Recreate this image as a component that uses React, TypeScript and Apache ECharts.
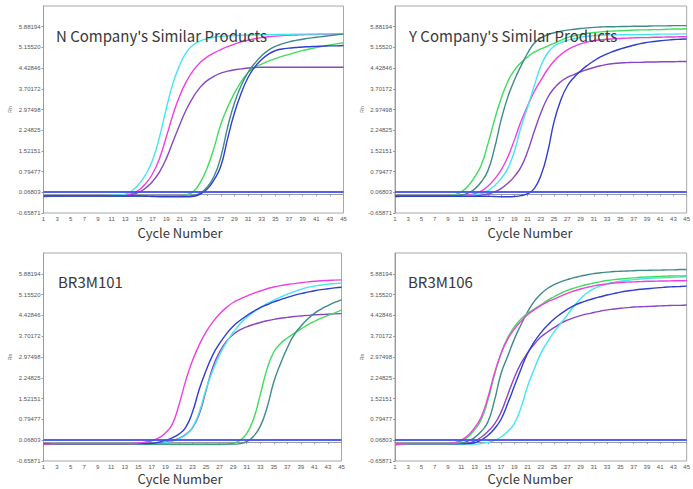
import React, { useEffect, useRef } from "react";
import * as echarts from "echarts";

const cycles: string[] = [
  "1","2","3","4","5","6","7","8","9","10","11","12","13","14","15","16","17","18","19","20",
  "21","22","23","24","25","26","27","28","29","30","31","32","33","34","35","36","37","38","39","40",
  "41","42","43","44","45",
];

const yTickLabels = ["-0.65871","0.06803","0.79477","1.52151","2.24825","2.97498","3.70172","4.42846","5.15520","5.88194"];
const yMin = -0.65871;
const yMax = 6.60869;

const panelTitles = ["N Company's Similar Products", "Y Company's Similar Products", "BR3M101", "BR3M106"];
const thresholds = [0.09, 0.09, 0.1, 0.1];

// N Company
const nCyan = [-0.06,-0.05,-0.05,-0.05,-0.05, -0.05,-0.05,-0.05,-0.05,-0.05, -0.04,-0.03,0.0,0.13,0.36, 0.7,1.2,2.0,3.0,3.9, 4.55,5.0,5.25,5.38,5.46, 5.51,5.54,5.56,5.57,5.58, 5.59,5.59,5.6,5.6,5.61, 5.61,5.61,5.62,5.62,5.62, 5.62,5.63,5.63,5.63,5.63];
const nMagenta = [-0.09,-0.07,-0.06,-0.05,-0.05, -0.05,-0.05,-0.05,-0.05,-0.05, -0.05,-0.05,-0.03,0.03,0.15, 0.38,0.72,1.25,2.0,2.8, 3.47,3.98,4.36,4.63,4.82, 4.96,5.08,5.18,5.27,5.35, 5.41,5.46,5.5,5.53,5.55, 5.57,5.58,5.59,5.6,5.61, 5.61,5.62,5.62,5.63,5.63];
const nPurple = [-0.07,-0.06,-0.05,-0.05,-0.05, -0.05,-0.05,-0.05,-0.05,-0.05, -0.05,-0.05,-0.04,-0.01,0.07, 0.22,0.45,0.78,1.25,1.85, 2.45,3.0,3.43,3.76,3.99, 4.14,4.25,4.32,4.37,4.4, 4.43,4.45,4.46,4.46,4.46, 4.46,4.46,4.46,4.46,4.46, 4.46,4.46,4.46,4.46,4.46];
const nGreen = [-0.05,-0.05,-0.05,-0.05,-0.05, -0.05,-0.05,-0.05,-0.05,-0.05, -0.05,-0.05,-0.05,-0.05,-0.05, -0.06,-0.07,-0.07,-0.07,-0.07, -0.06,-0.02,0.1,0.42,0.92, 1.62,2.45,3.05,3.55,3.95, 4.27,4.45,4.57,4.67,4.76, 4.84,4.91,4.98,5.04,5.1, 5.15,5.2,5.24,5.28,5.32];
const nTeal = [-0.06,-0.06,-0.06,-0.06,-0.06, -0.06,-0.06,-0.06,-0.06,-0.06, -0.06,-0.06,-0.06,-0.06,-0.06, -0.06,-0.06,-0.06,-0.06,-0.06, -0.06,-0.06,-0.04,0.04,0.25, 0.62,1.3,2.35,3.2,3.82, 4.28,4.6,4.86,5.06,5.19, 5.28,5.35,5.4,5.44,5.48, 5.51,5.54,5.57,5.6,5.62];
const nBlue = [-0.06,-0.06,-0.06,-0.06,-0.06, -0.06,-0.06,-0.06,-0.06,-0.06, -0.06,-0.06,-0.06,-0.06,-0.06, -0.07,-0.08,-0.09,-0.09,-0.09, -0.09,-0.09,-0.07,0.0,0.18, 0.5,0.98,1.95,2.85,3.55, 4.1,4.47,4.73,4.92,5.04, 5.1,5.13,5.15,5.17,5.18, 5.19,5.2,5.21,5.21,5.22];

// Y Company
const yGreen = [-0.08,-0.06,-0.05,-0.05,-0.05, -0.05,-0.05,-0.05,-0.05,-0.02, 0.08,0.28,0.6,1.02,1.75, 2.6,3.35,3.95,4.35,4.62, 4.82,4.99,5.1,5.2,5.3, 5.4,5.5,5.56,5.61,5.65, 5.68,5.7,5.72,5.73,5.74, 5.75,5.76,5.77,5.77,5.78, 5.78,5.79,5.8,5.8,5.81];
const yTeal = [-0.05,-0.05,-0.05,-0.05,-0.05, -0.05,-0.05,-0.05,-0.05,-0.05, -0.03,0.04,0.18,0.43,0.82, 1.6,2.6,3.4,4.0,4.5, 4.95,5.3,5.48,5.6,5.67, 5.72,5.76,5.79,5.82,5.84, 5.86,5.87,5.88,5.88,5.89, 5.89,5.9,5.9,5.9,5.91, 5.91,5.91,5.92,5.92,5.92];
const yMagenta = [-0.09,-0.07,-0.05,-0.05,-0.05, -0.05,-0.05,-0.05,-0.05,-0.05, -0.05,-0.03,0.02,0.11,0.28, 0.53,0.85,1.3,1.9,2.55, 3.1,3.6,4.0,4.38,4.68, 4.9,5.07,5.19,5.28,5.34, 5.39,5.42,5.44,5.46,5.47, 5.48,5.49,5.5,5.5,5.51, 5.51,5.52,5.52,5.53,5.53];
const yCyan = [-0.05,-0.05,-0.05,-0.05,-0.05, -0.05,-0.05,-0.05,-0.05,-0.05, -0.05,-0.05,-0.03,0.02,0.12, 0.3,0.55,0.9,1.5,2.35, 3.05,3.8,4.5,4.95,5.2, 5.32,5.4,5.46,5.51,5.55, 5.57,5.58,5.59,5.59,5.6, 5.6,5.6,5.61,5.61,5.61, 5.62,5.62,5.62,5.63,5.63];
const yPurple = [-0.05,-0.05,-0.05,-0.05,-0.05, -0.05,-0.05,-0.05,-0.05,-0.05, -0.05,-0.05,-0.05,-0.03,0.01, 0.08,0.2,0.38,0.62,0.95, 1.5,2.2,2.85,3.38,3.72, 3.95,4.1,4.2,4.3,4.38, 4.45,4.51,4.56,4.59,4.61, 4.62,4.63,4.63,4.64,4.64, 4.65,4.65,4.65,4.66,4.66];
const yBlue = [-0.07,-0.07,-0.07,-0.07,-0.07, -0.07,-0.07,-0.07,-0.07,-0.07, -0.07,-0.07,-0.07,-0.07,-0.07, -0.08,-0.09,-0.09,-0.08,-0.05, 0.02,0.2,0.65,1.45,2.55, 3.3,3.8,4.1,4.33,4.52, 4.68,4.82,4.93,5.02,5.1, 5.17,5.23,5.29,5.33,5.36, 5.39,5.41,5.43,5.44,5.45];

// BR3M101
const bMagenta = [-0.08,-0.06,-0.05,-0.05,-0.05, -0.05,-0.05,-0.05,-0.05,-0.05, -0.05,-0.05,-0.05,-0.05,-0.03, 0.0,0.05,0.15,0.32,0.62, 1.3,2.15,2.85,3.4,3.85, 4.2,4.48,4.7,4.88,5.0, 5.1,5.2,5.28,5.36,5.42, 5.47,5.51,5.54,5.57,5.6, 5.62,5.64,5.65,5.66,5.67];
const bBlue = [-0.05,-0.05,-0.05,-0.05,-0.05, -0.05,-0.05,-0.05,-0.05,-0.05, -0.05,-0.05,-0.05,-0.05,-0.05, -0.05,-0.04,0.0,0.06,0.15, 0.28,0.52,1.05,1.85,2.5, 3.05,3.45,3.78,4.05,4.25, 4.42,4.57,4.7,4.8,4.9, 4.98,5.06,5.13,5.19,5.24, 5.29,5.33,5.36,5.39,5.41];
const bCyan = [-0.06,-0.06,-0.06,-0.06,-0.06, -0.06,-0.06,-0.06,-0.06,-0.06, -0.06,-0.06,-0.06,-0.06,-0.06, -0.06,-0.06,-0.05,-0.02,0.04, 0.12,0.26,0.52,1.05,1.85, 2.5,3.05,3.48,3.83,4.13, 4.36,4.54,4.7,4.84,4.96, 5.07,5.17,5.26,5.34,5.41, 5.45,5.49,5.52,5.54,5.56];
const bPurple = [-0.05,-0.05,-0.05,-0.05,-0.05, -0.05,-0.05,-0.05,-0.05,-0.05, -0.05,-0.05,-0.05,-0.05,-0.05, -0.05,-0.05,-0.04,0.0,0.05, 0.13,0.27,0.5,0.98,1.8, 2.62,3.15,3.52,3.76,3.92, 4.03,4.11,4.18,4.24,4.29, 4.33,4.36,4.39,4.41,4.43, 4.45,4.46,4.47,4.48,4.49];
const bGreen = [-0.06,-0.06,-0.06,-0.06,-0.06, -0.06,-0.06,-0.06,-0.06,-0.06, -0.06,-0.06,-0.06,-0.06,-0.06, -0.06,-0.07,-0.07,-0.07,-0.08, -0.08,-0.08,-0.08,-0.08,-0.08, -0.08,-0.08,-0.07,-0.04,0.06, 0.3,0.8,1.65,2.55,3.15, 3.45,3.64,3.8,3.95,4.1, 4.22,4.33,4.43,4.52,4.61];
const bTeal = [-0.07,-0.07,-0.07,-0.07,-0.07, -0.07,-0.07,-0.07,-0.07,-0.07, -0.07,-0.07,-0.07,-0.07,-0.07, -0.07,-0.07,-0.07,-0.07,-0.07, -0.07,-0.07,-0.07,-0.07,-0.07, -0.07,-0.07,-0.07,-0.07,-0.05, 0.02,0.2,0.55,1.2,2.1, 2.75,3.3,3.75,4.05,4.3, 4.5,4.65,4.77,4.88,4.97];

// BR3M106
const rGreen = [-0.08,-0.06,-0.05,-0.05,-0.05, -0.05,-0.05,-0.05,-0.05,-0.03, 0.04,0.18,0.43,0.78,1.45, 2.35,3.1,3.65,4.03,4.3, 4.5,4.65,4.8,4.95,5.08, 5.2,5.3,5.38,5.45,5.51, 5.56,5.61,5.65,5.68,5.7, 5.72,5.74,5.76,5.77,5.78, 5.79,5.8,5.81,5.81,5.82];
const rMagenta = [-0.1,-0.07,-0.05,-0.05,-0.05, -0.05,-0.05,-0.05,-0.05,-0.02, 0.07,0.23,0.5,0.88,1.55, 2.4,3.1,3.6,3.95,4.22, 4.45,4.62,4.77,4.9,5.0, 5.1,5.2,5.28,5.35,5.41, 5.46,5.5,5.53,5.56,5.58, 5.59,5.6,5.61,5.62,5.62, 5.63,5.63,5.64,5.64,5.65];
const rTeal = [-0.05,-0.05,-0.05,-0.05,-0.05, -0.05,-0.05,-0.05,-0.05,-0.05, -0.03,0.04,0.16,0.37,0.7, 1.45,2.4,3.0,3.6,4.1, 4.55,4.92,5.18,5.37,5.5, 5.6,5.68,5.75,5.8,5.85, 5.89,5.92,5.94,5.96,5.97, 5.98,5.99,6.0,6.0,6.01, 6.01,6.02,6.02,6.03,6.03];
const rPurple = [-0.05,-0.05,-0.05,-0.05,-0.05, -0.05,-0.05,-0.05,-0.05,-0.05, -0.05,-0.03,0.04,0.17,0.37, 0.63,1.05,1.65,2.25,2.75, 3.12,3.42,3.67,3.85,4.0, 4.15,4.26,4.35,4.42,4.48, 4.53,4.58,4.62,4.65,4.68, 4.7,4.72,4.73,4.74,4.75, 4.76,4.77,4.78,4.78,4.79];
const rBlue = [-0.06,-0.06,-0.06,-0.06,-0.06, -0.06,-0.06,-0.06,-0.06,-0.06, -0.06,-0.05,-0.02,0.07,0.23, 0.47,0.8,1.35,1.95,2.55, 3.1,3.5,3.82,4.08,4.3, 4.48,4.64,4.77,4.87,4.95, 5.02,5.08,5.14,5.19,5.24, 5.28,5.31,5.34,5.36,5.38, 5.4,5.42,5.43,5.44,5.45];
const rCyan = [-0.07,-0.07,-0.07,-0.07,-0.07, -0.07,-0.07,-0.07,-0.07,-0.07, -0.07,-0.07,-0.07,-0.05,-0.01, 0.06,0.18,0.37,0.65,1.2, 1.95,2.55,3.1,3.5,3.85, 4.15,4.45,4.75,5.02,5.22, 5.36,5.46,5.53,5.58,5.62, 5.65,5.68,5.7,5.72,5.73, 5.74,5.75,5.76,5.77,5.78];

const COLORS: Record<string, string> = {
  cyan: "#46e6f0",
  magenta: "#ee40e0",
  purple: "#8a46c2",
  green: "#40dc5c",
  teal: "#418a8a",
  blue: "#2f3ecd",
};

const panelSeries: [number[], string][][] = [
  [[nGreen, "green"], [nPurple, "purple"], [nMagenta, "magenta"], [nCyan, "cyan"], [nTeal, "teal"], [nBlue, "blue"]],
  [[yPurple, "purple"], [yMagenta, "magenta"], [yCyan, "cyan"], [yGreen, "green"], [yTeal, "teal"], [yBlue, "blue"]],
  [[bPurple, "purple"], [bCyan, "cyan"], [bGreen, "green"], [bTeal, "teal"], [bBlue, "blue"], [bMagenta, "magenta"]],
  [[rPurple, "purple"], [rCyan, "cyan"], [rBlue, "blue"], [rTeal, "teal"], [rGreen, "green"], [rMagenta, "magenta"]],
];

const GRIDS = [
  { left: 43.5, top: 6, width: 300, height: 207 },
  { left: 395, top: 6, width: 299, height: 207 },
  { left: 43.5, top: 253, width: 298, height: 208 },
  { left: 395, top: 253, width: 299, height: 208 },
];
const TITLE_POS = [[56, 35], [409, 35], [58, 281], [408, 281]];
const XNAME_POS = [[180, 232], [530, 232], [180, 478], [530, 478]];

export default function App() {
  const ref = useRef<HTMLDivElement>(null);
  useEffect(() => {
    if (!ref.current) return;
    const chart = echarts.init(ref.current, null, { renderer: "svg" });
    const tickVals = yTickLabels.map(Number);
    const labelFont = "Liberation Sans";
    const option: any = {
      animation: false,
      backgroundColor: "#ffffff",
      grid: GRIDS.map((g) => ({ ...g, show: true, borderColor: "#a8a8a8", borderWidth: 1, backgroundColor: "#ffffff" })),
      xAxis: GRIDS.map((_, i) => ({
        type: "category",
        gridIndex: i,
        data: cycles,
        boundaryGap: false,
        axisLine: { lineStyle: { color: "#9a9a9a", width: 1 } },
        axisTick: { show: true, interval: 1, length: 2, lineStyle: { color: "#9a9a9a" } },
        axisLabel: { interval: 1, fontSize: 6, color: "#555", margin: 3, fontFamily: labelFont },
        splitLine: { show: false },
      })),
      yAxis: GRIDS.map((_, i) => ({
        type: "value",
        gridIndex: i,
        min: yMin,
        max: yMax,
        name: "Rn",
        nameLocation: "middle",
        nameGap: 31,
        nameRotate: 90,
        nameTextStyle: { fontSize: 5, color: "#666", fontFamily: labelFont },
        axisLine: { show: true, lineStyle: { color: "#9a9a9a", width: 1 } },
        axisTick: { show: true, length: 2, customValues: tickVals, lineStyle: { color: "#9a9a9a" } },
        axisLabel: {
          fontSize: 6,
          color: "#555",
          margin: 3,
          fontFamily: labelFont,
          customValues: tickVals,
          formatter: (v: number) => v.toFixed(5),
        },
        splitLine: { show: false },
      })),
      series: panelSeries.flatMap((list, pi) => {
        const s: any[] = list.map(([data, c]) => ({
          type: "line",
          xAxisIndex: pi,
          yAxisIndex: pi,
          data,
          smooth: 0.5,
          showSymbol: false,
          symbol: "none",
          lineStyle: { color: COLORS[c], width: 1.4 },
          itemStyle: { color: COLORS[c] },
        }));
        s.push({
          type: "line",
          xAxisIndex: pi,
          yAxisIndex: pi,
          data: [],
          markLine: {
            silent: true,
            symbol: "none",
            label: { show: false },
            lineStyle: { color: "#4050f0", width: 1.8, type: "solid", opacity: 0.9 },
            data: [{ yAxis: thresholds[pi] }],
          },
        });
        return s;
      }),
      graphic: [
        ...panelTitles.map((t, i) => ({
          type: "text",
          x: TITLE_POS[i][0],
          y: TITLE_POS[i][1],
          z: 100,
          style: {
            text: t,
            fill: "#383838",
            font: '15px "Noto Sans CJK SC", "Noto Sans", sans-serif',
            textAlign: "left",
            textVerticalAlign: "middle",
          },
        })),
        ...XNAME_POS.map((p) => ({
          type: "text",
          x: p[0],
          y: p[1],
          style: {
            text: "Cycle Number",
            fill: "#383838",
            font: '13px "Noto Sans CJK SC", "Noto Sans", sans-serif',
            textAlign: "center",
            textVerticalAlign: "middle",
          },
        })),
      ],
    };
    chart.setOption(option);
    return () => chart.dispose();
  }, []);
  return (
    <div
      ref={ref}
      style={{ position: "fixed", left: 0, top: 0, width: 693, height: 489, background: "#fff" }}
    />
  );
}
